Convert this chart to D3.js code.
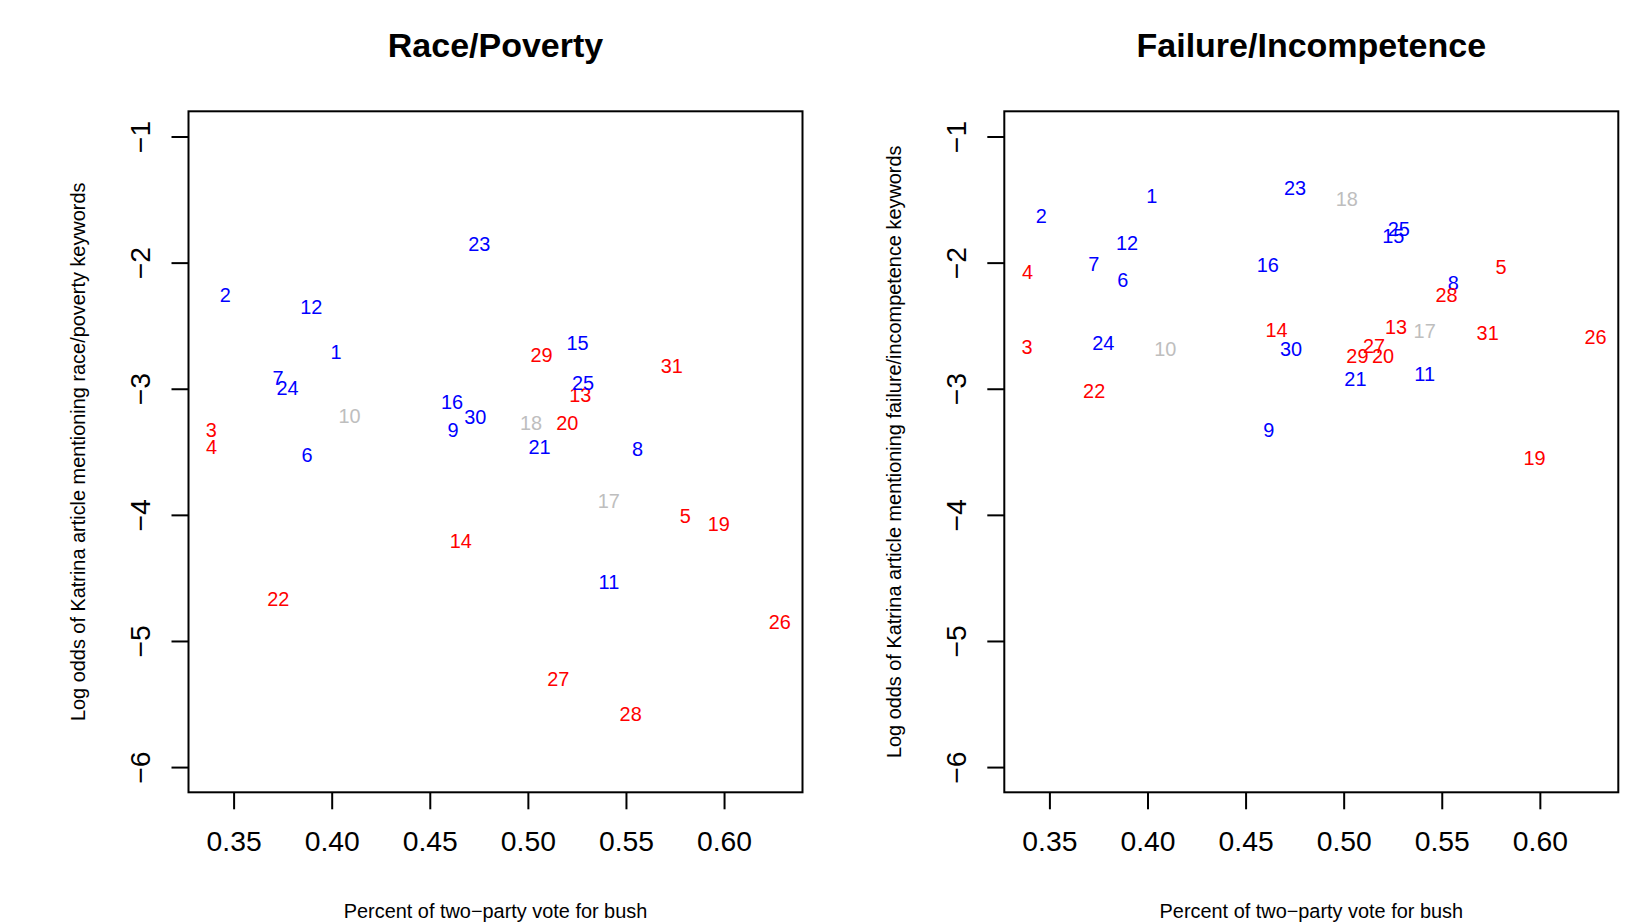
<!DOCTYPE html>
<html>
<head>
<meta charset="utf-8">
<script src="https://cdn.jsdelivr.net/npm/d3@7"></script>
<style>
  body { margin: 0; background: #fff; }
  svg { display: block; font-family: "Liberation Sans", Arial, Helvetica, sans-serif; }
</style>
</head>
<body>
<svg id="chart"></svg>
<script>
(function (d3) {
  'use strict'
  // data
  const stateIds = [1, 2, 3, 4, 5, 6, 7, 8, 9, 10, 11, 12, 13, 14, 15, 16,
    17, 18, 19, 20, 21, 22, 23, 24, 25, 26, 27, 28, 29, 30, 31]
  // share of the two-party vote for Bush
  const bushShare = [0.4022, 0.3458, 0.3386, 0.3388, 0.5802, 0.3874, 0.3726, 0.5559,
    0.4618, 0.4091, 0.5413, 0.3896, 0.5267, 0.4658, 0.5253, 0.4613, 0.5413, 0.5016,
    0.5973, 0.5201, 0.5060, 0.3728, 0.4752, 0.3775, 0.5281, 0.6284, 0.5155, 0.5524,
    0.5070, 0.4732, 0.5734]
  const raceLogOdds = [-2.711, -2.252, -3.322, -3.460, -4.008, -3.521, -2.917, -3.473,
    -3.322, -3.217, -4.529, -2.349, -3.050, -4.209, -2.635, -3.103, -3.891, -3.267,
    -4.068, -3.272, -3.459, -4.663, -1.854, -2.989, -2.952, -4.849, -5.298, -5.576,
    -2.735, -3.222, -2.820]
  const failureLogOdds = [-1.468, -1.632, -2.671, -2.074, -2.037, -2.137, -2.010, -2.159,
    -3.328, -2.683, -2.878, -1.841, -2.508, -2.534, -1.788, -2.021, -2.540, -1.492,
    -3.544, -2.738, -2.925, -3.016, -1.407, -2.635, -1.735, -2.587, -2.659, -2.259,
    -2.738, -2.683, -2.556]
  // D = blue, R = red, swing = gray
  const stateLean = ['D', 'D', 'R', 'R', 'R', 'D', 'D', 'D', 'D', 'S', 'D', 'D', 'R', 'R', 'D', 'D',
    'S', 'S', 'R', 'R', 'D', 'R', 'D', 'D', 'D', 'R', 'R', 'R', 'R', 'D', 'R']
  const xTicks = [0.35, 0.40, 0.45, 0.50, 0.55, 0.60]
  const yTicks = [-6, -5, -4, -3, -2, -1]
  const yLimits = [-6, -1]

  const panels = [
    { title: 'Race/Poverty', ylab: 'Log odds of Katrina article mentioning race/poverty keywords', values: raceLogOdds },
    { title: 'Failure/Incompetence', ylab: 'Log odds of Katrina article mentioning failure/incompetence keywords', values: failureLogOdds }
  ]

  const leanColor = d3.scaleOrdinal().domain(['D', 'R', 'S']).range(['#0000FF', '#FF0000', '#BEBEBE'])

  // layout
  const W = 1626
  const H = 922
  const PANEL_X = [188.5, 1004.3]
  const PW = 614
  const TOP = 111.3
  const PH = 681
  const TICK = 17

  const svg = d3.select('#chart').attr('width', W).attr('height', H)

  // R style 4% axis extension
  function pad(ext) {
    const r = ext[1] - ext[0]
    return [ext[0] - 0.04 * r, ext[1] + 0.04 * r]
  }

  const x = d3.scaleLinear().domain(pad(d3.extent(bushShare))).range([0, PW])
  const y = d3.scaleLinear().domain(pad(yLimits)).range([PH, 0])

  panels.forEach((p, i) => {
    const g = svg.append('g').attr('transform', `translate(${PANEL_X[i]},${TOP})`)

    // title
    g.append('text')
      .attr('x', PW / 2).attr('y', 57 - TOP)
      .attr('text-anchor', 'middle')
      .style('font-size', '34px').style('font-weight', 'bold')
      .text(p.title)

    // x axis
    const xa = g.append('g').attr('transform', `translate(0,${PH})`)
      .call(d3.axisBottom(x).tickValues(xTicks).tickSize(TICK).tickFormat(d3.format('.2f')))
    xa.select('.domain').remove()
    xa.selectAll('line').attr('stroke', '#000').attr('stroke-width', 2)
    xa.selectAll('text')
      .attr('y', 59).attr('dy', null)
      .attr('fill', '#000')
      .style('font-size', '28.3px').style('font-family', 'inherit')

    // y axis, labels turned like R
    const ya = g.append('g')
      .call(d3.axisLeft(y).tickValues(yTicks).tickSize(TICK).tickFormat(d3.format('d')))
    ya.select('.domain').remove()
    ya.selectAll('line').attr('stroke', '#000').attr('stroke-width', 2)
    ya.selectAll('text')
      .attr('x', null).attr('dy', null)
      .attr('transform', 'translate(-38.3,0) rotate(-90)')
      .attr('text-anchor', 'middle')
      .attr('fill', '#000')
      .style('font-size', '28.3px').style('font-family', 'inherit')

    // frame
    g.append('rect')
      .attr('width', PW).attr('height', PH)
      .attr('fill', 'none').attr('stroke', '#000').attr('stroke-width', 2)

    // axis titles
    g.append('text')
      .attr('x', PW / 2).attr('y', 918 - TOP)
      .attr('text-anchor', 'middle')
      .style('font-size', '19.9px')
      .text('Percent of two\u2212party vote for bush')

    g.append('text')
      .attr('transform', `translate(${84.8 - 188.5},${PH / 2}) rotate(-90)`)
      .attr('text-anchor', 'middle')
      .style('font-size', '19.9px')
      .text(p.ylab)

    // state numbers as the plotted points
    g.selectAll('text.state')
      .data(stateIds)
      .enter().append('text')
      .attr('class', 'state')
      .attr('x', (d, j) => x(bushShare[j]))
      .attr('y', (d, j) => y(p.values[j]))
      .attr('dy', '0.36em')
      .attr('text-anchor', 'middle')
      .attr('fill', (d, j) => leanColor(stateLean[j]))
      .style('font-size', '19.9px')
      .text(d => d)
  })
}(d3))
</script>
</body>
</html>
